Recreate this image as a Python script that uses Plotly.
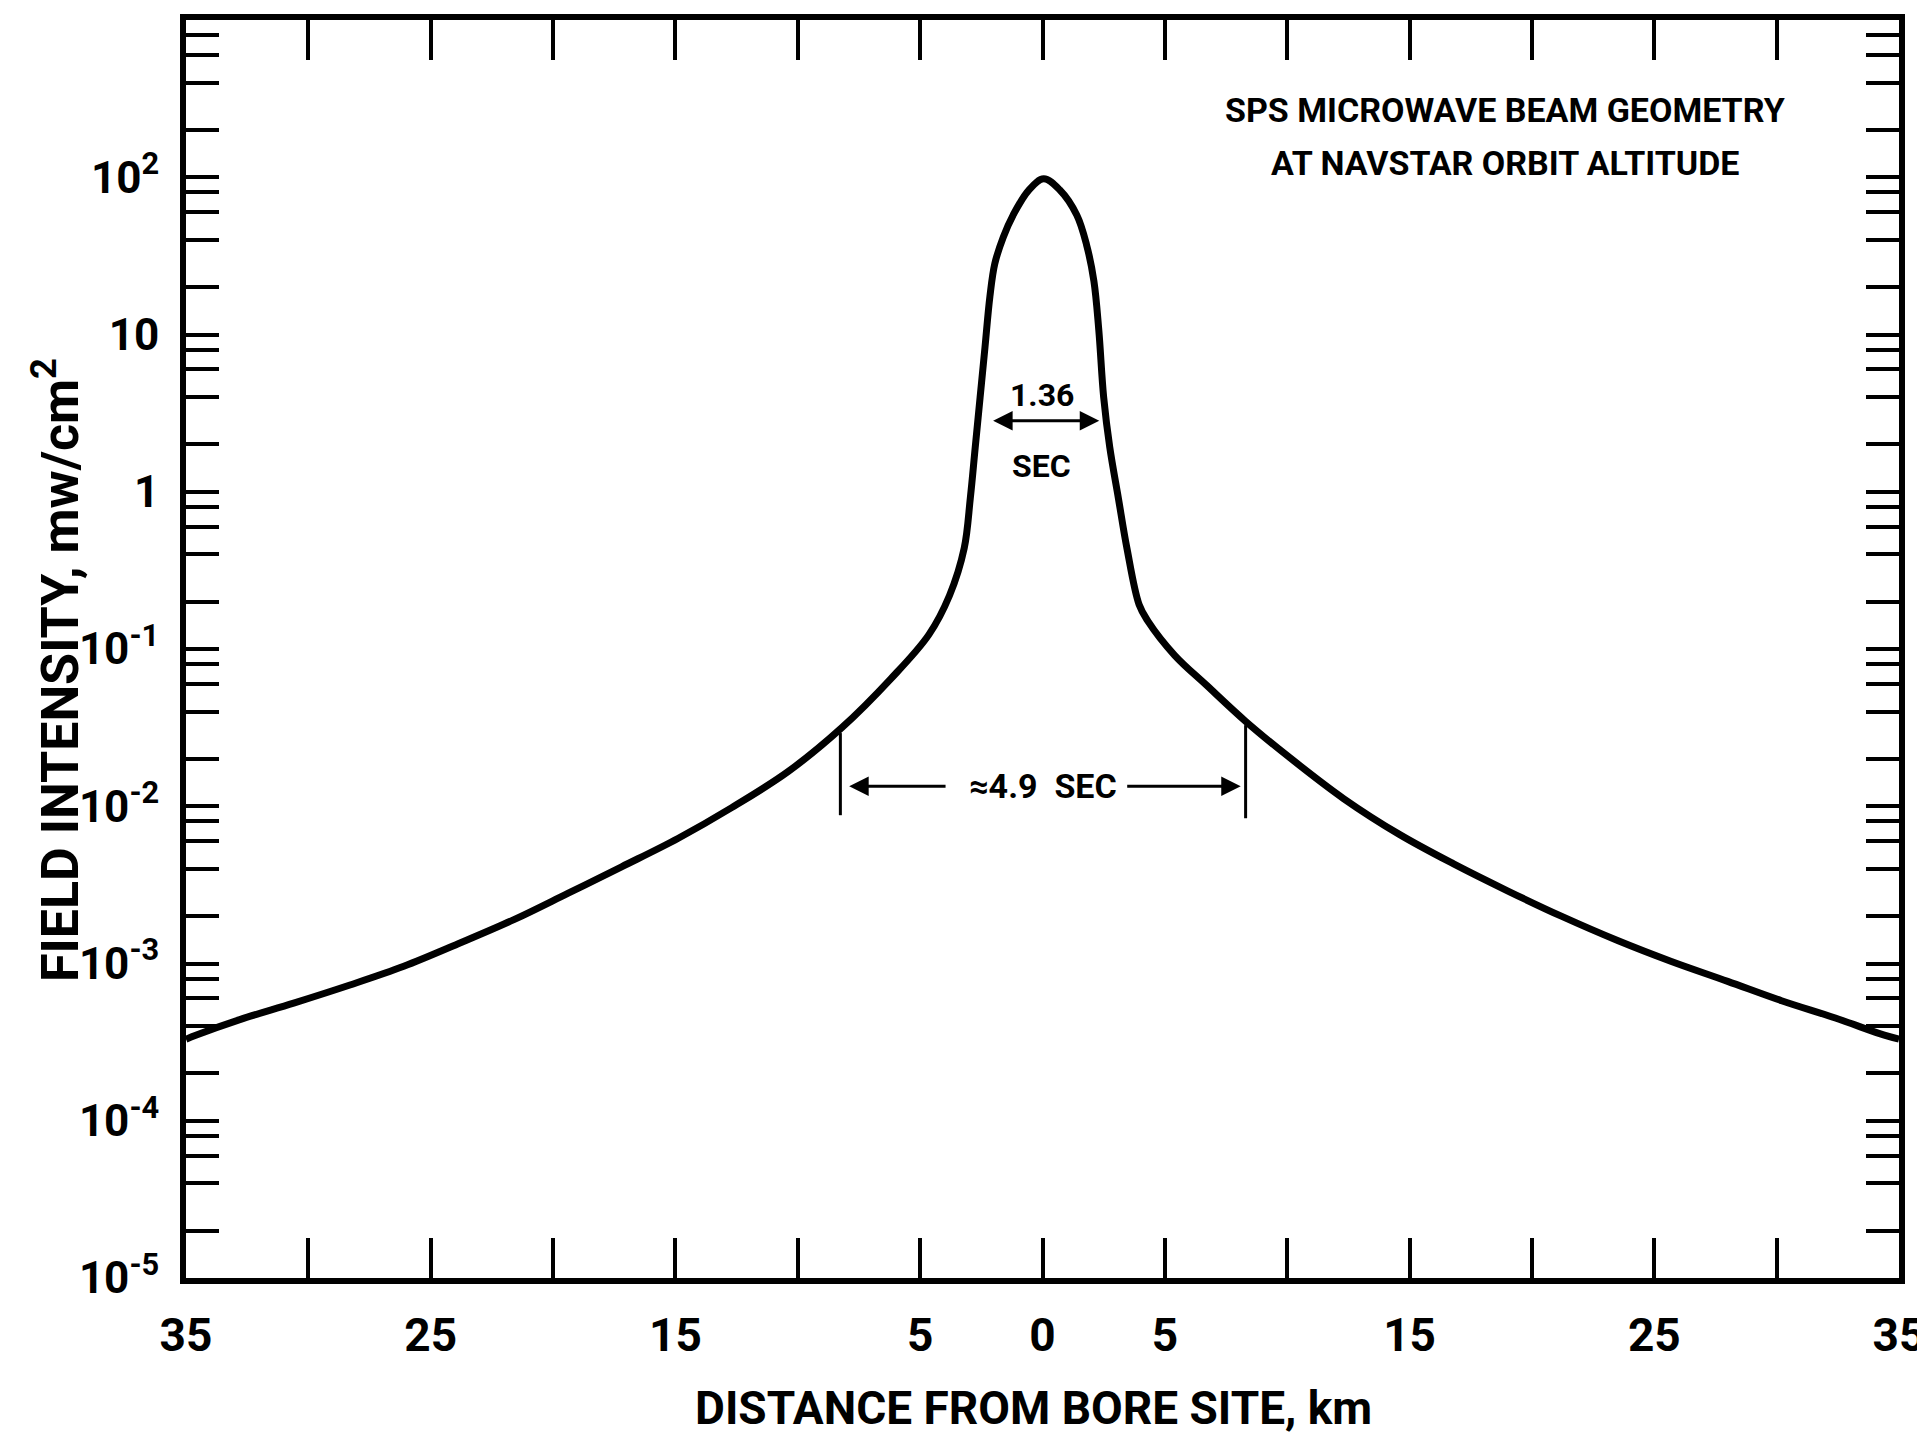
import plotly.graph_objects as go

# beam profile
distance_km = [-35, -34.6, -32.8, -30.6, -28.3, -26.1, -23.9, -21.6, -19.4, -17.2,
               -14.9, -12.7, -10.4, -8.2, -6.2, -4.65, -3.8, -3.2, -2.95, -2.75,
               -2.55, -2.35, -2.15, -1.95, -1.6, -1.2, -0.55, 0.05, 0.7, 1.4,
               1.8, 2.1, 2.3, 2.5, 2.75, 3.1, 3.45, 3.95, 4.3, 5.4,
               6.7, 8.3, 10.1, 12.3, 14.6, 16.8, 19.0, 21.2, 23.5, 25.7,
               28.0, 30.2, 32.4, 34.4, 35]
intensity = [3.3e-4, 3.5e-4, 4.4e-4, 5.6e-4, 7.3e-4, 9.6e-4, 1.33e-3, 1.9e-3, 2.79e-3, 4.12e-3,
             6.24e-3, 9.8e-3, 0.0166, 0.0316, 0.0646, 0.123, 0.219, 0.437, 0.912, 1.91,
             3.98, 8.3, 17.4, 28.2, 41.7, 57.5, 83.2, 97.7, 83.2, 57.5,
             37.2, 21.9, 10.7, 3.98, 1.91, 0.912, 0.437, 0.191, 0.151, 0.0912,
             0.0589, 0.0347, 0.0204, 0.0112, 6.6e-3, 4.3e-3, 2.9e-3, 2.0e-3, 1.4e-3, 1.03e-3,
             7.7e-4, 5.8e-4, 4.5e-4, 3.5e-4, 3.3e-4]

x_tickvals = [-35, -30, -25, -20, -15, -10, -5, 0, 5, 10, 15, 20, 25, 30, 35]
x_ticktext = ["35", "", "25", "", "15", "", "5", "0", "5", "", "15", "", "25", "", "35"]

decades = [1e-5, 1e-4, 1e-3, 1e-2, 1e-1, 1, 10, 100, 1000]
decade_text = ["10<sup>-5</sup>", "10<sup>-4</sup>", "10<sup>-3</sup>", "10<sup>-2</sup>",
               "10<sup>-1</sup>", "1", "10", "10<sup>2</sup>", ""]
minor_mult = [2, 4, 6, 8]

y_tickvals, y_ticktext = [], []
for d, t in zip(decades, decade_text):
    y_tickvals.append(d)
    y_ticktext.append(t)
    if d < 1000:
        for m in minor_mult:
            y_tickvals.append(d * m)
            y_ticktext.append("")

FONT = "Roboto, Liberation Sans, Arial"
ink = "black"

fig = go.Figure()
fig.add_trace(go.Scatter(
    x=distance_km, y=intensity, mode="lines",
    line=dict(color=ink, width=7, shape="spline", smoothing=1.0),
    hoverinfo="skip", showlegend=False,
))

axis_common = dict(
    showline=True, linewidth=6, linecolor=ink, mirror="ticks",
    ticks="inside", tickcolor=ink, tickwidth=4,
    showgrid=False, zeroline=False, ticklabeloverflow="allow",
    automargin=False,
)

fig.update_xaxes(range=[-35, 35], tickmode="array", tickvals=x_tickvals,
                 ticktext=x_ticktext, ticklen=40, ticklabelstandoff=12,
                 tickfont=dict(family=FONT, size=46, color=ink, weight="bold"),
                 **axis_common)
fig.update_yaxes(type="log", range=[-5, 3], tickmode="array", tickvals=y_tickvals,
                 ticktext=y_ticktext, ticklen=33, ticklabelstandoff=12,
                 tickfont=dict(family=FONT, size=44, color=ink, weight="bold"),
                 **axis_common)

bold = lambda s: dict(family=FONT, size=s, color=ink, weight="bold")
arrow = dict(showarrow=True, arrowhead=2, arrowsize=1.3, arrowwidth=3,
             arrowcolor=ink, axref="x", ayref="y", text="")

annotations = [
    dict(xref="paper", yref="paper", x=0.770, y=0.9285, xanchor="center", yanchor="middle",
         text="SPS MICROWAVE BEAM GEOMETRY", showarrow=False, font=bold(34)),
    dict(xref="paper", yref="paper", x=0.770, y=0.8865, xanchor="center", yanchor="middle",
         text="AT NAVSTAR ORBIT ALTITUDE", showarrow=False, font=bold(34)),
    dict(xref="paper", yref="paper", x=0.495, y=-0.1033, xanchor="center", yanchor="middle",
         text="DISTANCE FROM BORE SITE, km", showarrow=False, font=bold(46)),
    dict(xref="paper", yref="paper", x=-0.0755, y=0.483, xanchor="center", yanchor="middle",
         textangle=-90, text="FIELD INTENSITY, mw/cm<sup>2</sup>",
         showarrow=False, font=bold(52)),
    # 1.36 SEC beam width
    dict(x=-0.04, y=0.618, text="1.36", showarrow=False, font=bold(32)),
    dict(x=-0.04, y=0.166, text="SEC", showarrow=False, font=bold(32)),
    dict(x=2.32, y=0.452, ax=-2.08, ay=0.452, arrowside="end+start", **arrow),
    # ~4.9 SEC width
    dict(x=0.0, y=-1.873, text="\u22484.9  SEC", showarrow=False, font=bold(34)),
    dict(x=-7.9, y=-1.873, ax=-3.9, ay=-1.873, **arrow),
    dict(x=8.1, y=-1.873, ax=3.4, ay=-1.873, **arrow),
]

# end bars of the 4.9 sec span (shapes take data values on log axes)
shapes = [
    dict(type="line", xref="x", yref="y", x0=-8.26, x1=-8.26, y0=0.0292, y1=0.00877,
         line=dict(color=ink, width=3)),
    dict(type="line", xref="x", yref="y", x0=8.3, x1=8.3, y0=0.0328, y1=0.00839,
         line=dict(color=ink, width=3)),
]

# the page body adds an 8px margin; width leaves room for the last "35" label
fig.update_layout(
    width=1917, height=1426,
    margin=dict(l=178, r=26, t=12, b=156),
    paper_bgcolor="white", plot_bgcolor="white",
    annotations=annotations, shapes=shapes,
)

fig.write_html("out.html")
